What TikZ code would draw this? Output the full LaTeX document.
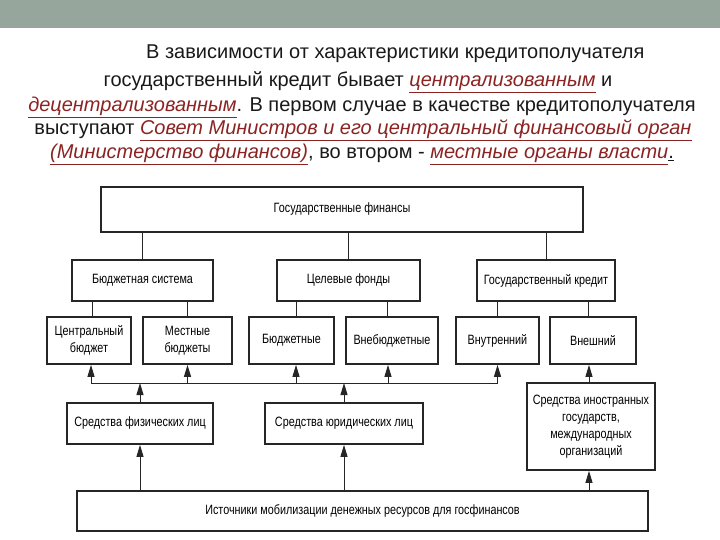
\documentclass[tikz,border=0pt]{standalone}
\usepackage{fontspec}
\setmainfont{Liberation Sans}
\newfontfamily\boxfont[FakeStretch=0.8]{Liberation Sans}
\usetikzlibrary{arrows.meta,shadows}
\definecolor{barcol}{RGB}{150,166,156}
\definecolor{linkred}{RGB}{140,35,35}
\newcommand{\lnk}[1]{\textcolor{linkred}{\underline{\textit{#1}}}}
\begin{document}
\begin{tikzpicture}[x=1pt,y=-1pt,
  box/.style={draw=black!85, line width=1.7pt, fill=white, align=center, inner sep=0pt,
    font=\boxfont\fontsize{13.5}{17}\selectfont,
    drop shadow={shadow xshift=1.2pt, shadow yshift=-1.2pt, fill=black!45, opacity=1}},
  conn/.style={draw=black!85, line width=1pt},
  arr/.style={conn, -{Triangle[length=12pt,width=7pt]}},
  ttl/.style={font=\fontsize{20}{23}\selectfont, inner sep=0pt, text=black!90}]
\useasboundingbox (0,0) rectangle (720,540);
\fill[barcol] (0,0) rectangle (720,28);
% title text
\node[ttl, anchor=base west] (t1) at (146,59) {В зависимости от характеристики кредитополучателя};
\node[ttl, anchor=base] (t2) at (358,87) {государственный кредит бывает \lnk{централизованным} и};
\node[ttl, anchor=base] (t3) at (362,112) {\lnk{децентрализованным}. В первом случае в качестве кредитополучателя};
\node[ttl, anchor=base] (t4) at (363,135) {выступают \lnk{Совет Министров и его центральный финансовый орган}};
\node[ttl, anchor=base] (t5) at (362,159) {\lnk{(Министерство финансов)}, во втором - \lnk{местные органы власти}\underline{.}};
% boxes
\node[box, minimum width=482pt, minimum height=45pt] (top) at (342,209.5) {Государственные финансы};
\node[box, minimum width=141pt, minimum height=41pt] (bs) at (142.5,280.5) {Бюджетная система};
\node[box, minimum width=143pt, minimum height=41pt] (cf) at (348.5,280.5) {Целевые фонды};
\node[box, minimum width=138pt, minimum height=41pt] (gk) at (546,280.5) {Государственный кредит};
\node[box, minimum width=84pt, minimum height=47pt] (cb) at (89,340.5) {Центральный\\бюджет};
\node[box, minimum width=89pt, minimum height=47pt] (mb) at (187.5,340.5) {Местные\\бюджеты};
\node[box, minimum width=85pt, minimum height=47pt] (bj) at (291.5,340.5) {Бюджетные};
\node[box, minimum width=92pt, minimum height=47pt] (vb) at (392,340.5) {Внебюджетные};
\node[box, minimum width=83pt, minimum height=47pt] (vn) at (497.5,340.5) {Внутренний};
\node[box, minimum width=86pt, minimum height=47pt] (vsh) at (593,340.5) {Внешний};
\node[box, minimum width=146pt, minimum height=41pt] (fl) at (140,423.5) {Средства физических лиц};
\node[box, minimum width=158pt, minimum height=41pt] (ul) at (344,423.5) {Средства юридических лиц};
\node[box, minimum width=128pt, minimum height=87pt] (ig) at (591,426.5) {Средства иностранных\\государств,\\международных\\организаций};
\node[box, minimum width=571pt, minimum height=40pt] (src) at (362.5,511) {Источники мобилизации денежных ресурсов для госфинансов};
% connectors top -> level 2
\draw[conn] (top.south -| bs.north) -- (bs.north);
\draw[conn] (top.south -| cf.north) -- (cf.north);
\draw[conn] (top.south -| gk.north) -- (gk.north);
% level 2 -> level 3
\draw[conn] ([xshift=3pt]bs.south -| cb.north) -- ([xshift=3pt]cb.north);
\draw[conn] (bs.south -| mb.north) -- (mb.north);
\draw[conn] ([xshift=4.5pt]cf.south -| bj.north) -- ([xshift=4.5pt]bj.north);
\draw[conn] ([xshift=-5pt]cf.south -| vb.north) -- ([xshift=-5pt]vb.north);
\draw[conn] (gk.south -| vn.north) -- (vn.north);
\draw[conn] ([xshift=-4.5pt]gk.south -| vsh.north) -- ([xshift=-4.5pt]vsh.north);
% bus
\coordinate (bus) at (0,383);
\coordinate (busL) at ([xshift=2pt]cb.south |- bus);
\coordinate (busR) at (vn.south |- bus);
\draw[conn] (busL) -- (busR);
\draw[arr] (busL) -- ([xshift=2pt]cb.south);
\draw[arr] (mb.south |- bus) -- (mb.south);
\draw[arr] ([xshift=4.5pt]bj.south |- bus) -- ([xshift=4.5pt]bj.south);
\draw[arr] ([xshift=-4pt]vb.south |- bus) -- ([xshift=-4pt]vb.south);
\draw[arr] (busR) -- (vn.south);
\draw[arr] (fl.north) -- (fl.north |- bus);
\draw[arr] (ul.north) -- (ul.north |- bus);
\draw[arr] ([xshift=-2pt]ig.north) -- ([xshift=-2pt]ig.north |- vsh.south);
% source arrows
\draw[arr] (src.north -| fl.south) -- (fl.south);
\draw[arr] (src.north -| ul.south) -- (ul.south);
\draw[arr] ([xshift=-2pt]src.north -| ig.south) -- ([xshift=-2pt]ig.south);
\end{tikzpicture}
\end{document}
